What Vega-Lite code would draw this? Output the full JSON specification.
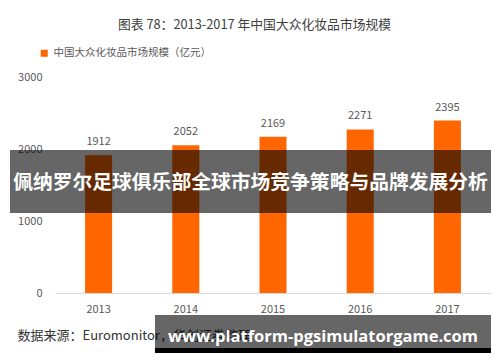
{
  "$schema": "https://vega.github.io/schema/vega-lite/v6.json",
  "width": 481,
  "height": 216,
  "autosize": {"type": "none"},
  "padding": {"left": 10, "top": 77, "right": 9, "bottom": 69},
  "background": "white",
  "config": {
    "view": {"stroke": null},
    "font": "Noto Sans CJK SC",
    "axis": {"zindex": 0}
  },
  "title": {
    "text": "图表 78：2013-2017 年中国大众化妆品市场规模",
    "fontSize": 12.8,
    "fontWeight": "normal",
    "color": "#404040",
    "font": "Noto Sans CJK SC",
    "offset": 16,
    "dx": 4
  },
  "data": {
    "values": [
      {"year": "2013", "value": 1912, "series": "中国大众化妆品市场规模（亿元）"},
      {"year": "2014", "value": 2052, "series": "中国大众化妆品市场规模（亿元）"},
      {"year": "2015", "value": 2169, "series": "中国大众化妆品市场规模（亿元）"},
      {"year": "2016", "value": 2271, "series": "中国大众化妆品市场规模（亿元）"},
      {"year": "2017", "value": 2395, "series": "中国大众化妆品市场规模（亿元）"}
    ]
  },
  "layer": [
    {
      "mark": {"type": "bar"},
      "encoding": {
        "x": {
          "field": "year",
          "type": "ordinal",
          "scale": {"range": [45, 481], "paddingInner": 0.69, "paddingOuter": 0.345},
          "axis": {
            "labelAngle": 0,
            "ticks": false,
            "domainColor": "#d9d9d9",
            "labelColor": "#595959",
            "labelFontSize": 11,
            "labelPadding": 10,
            "title": "数据来源：Euromonitor，华创证券整理",
            "titleFontSize": 13,
            "titleFontWeight": "normal",
            "titleColor": "#333333",
            "titleAnchor": "start",
            "titleAlign": "left",
            "titleBaseline": "middle",
            "titleX": 7,
            "titleY": 42
          }
        },
        "y": {
          "field": "value",
          "type": "quantitative",
          "scale": {"domain": [0, 3000]},
          "axis": {
            "values": [0, 500, 1000, 1500, 2000, 2500, 3000],
            "format": "d",
            "title": null,
            "grid": false,
            "domain": false,
            "ticks": false,
            "offset": -45,
            "labelPadding": 13,
            "labelColor": "#595959",
            "labelFontSize": 11
          }
        },
        "color": {
          "field": "series",
          "type": "nominal",
          "scale": {"range": ["#ff6600"]},
          "legend": {
            "title": null,
            "orient": "none",
            "legendX": 29,
            "legendY": -29,
            "symbolType": "square",
            "symbolSize": 50,
            "labelFontSize": 10.5,
            "labelColor": "#595959",
            "symbolStrokeWidth": 0
          }
        }
      }
    },
    {
      "mark": {"type": "text", "baseline": "middle", "dy": -13, "fontSize": 11, "color": "#595959"},
      "encoding": {
        "x": {"field": "year", "type": "ordinal"},
        "y": {"field": "value", "type": "quantitative"},
        "text": {"field": "value", "type": "quantitative"}
      }
    },
    {
      "data": {"values": [{"label": "佩纳罗尔足球俱乐部全球市场竞争策略与品牌发展分析"}]},
      "layer": [
        {
          "mark": {"type": "rect", "color": "black", "opacity": 0.6},
          "encoding": {
            "y": {"datum": 1986, "type": "quantitative"},
            "y2": {"datum": 1111}
          }
        },
        {
          "mark": {"type": "text", "color": "white", "fontSize": 19.8, "fontWeight": "bold", "baseline": "middle", "align": "center"},
          "encoding": {
            "y": {"datum": 1528, "type": "quantitative"},
            "text": {"field": "label", "type": "nominal"}
          }
        }
      ]
    },
    {
      "data": {"values": [{"label": "www.platform-pgsimulatorgame.com"}]},
      "layer": [
        {
          "mark": {"type": "rect", "color": "black", "opacity": 0.6},
          "encoding": {
            "x": {"datum": "2014", "bandPosition": -0.64},
            "x2": {"datum": "2017", "bandPosition": 2.113},
            "y": {"datum": -306, "type": "quantitative"},
            "y2": {"datum": -764}
          }
        },
        {
          "mark": {"type": "rect", "color": "black", "opacity": 1},
          "encoding": {
            "x": {"datum": "2014", "bandPosition": -0.64},
            "x2": {"datum": "2017", "bandPosition": 2.113},
            "y": {"datum": -764, "type": "quantitative"},
            "y2": {"datum": -833}
          }
        },
        {
          "mark": {"type": "text", "color": "white", "fontSize": 16.5, "fontWeight": "bold", "font": "Open Sans", "baseline": "middle", "align": "center"},
          "encoding": {
            "x": {"datum": "2016", "bandPosition": -0.876},
            "y": {"datum": -611, "type": "quantitative"},
            "text": {"field": "label", "type": "nominal"}
          }
        }
      ]
    }
  ]
}
